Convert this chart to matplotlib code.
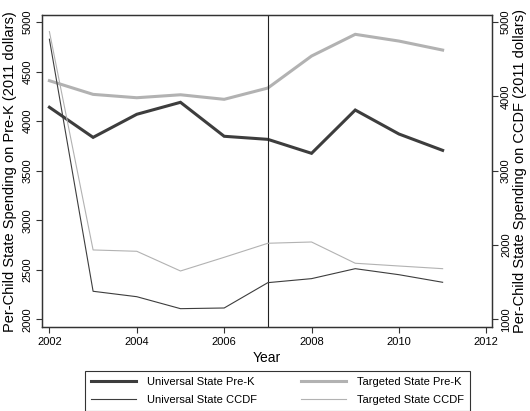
import matplotlib
matplotlib.use("Agg")
import matplotlib.pyplot as plt

plt.rcParams["font.family"] = ["Liberation Sans", "DejaVu Sans"]

years = [2002, 2003, 2004, 2005, 2006, 2007, 2008, 2009, 2010, 2011]

universal_prek = [4140, 3836, 4069, 4190, 3847, 3816, 3675, 4112, 3870, 3705]
targeted_prek = [4408, 4270, 4236, 4266, 4220, 4334, 4657, 4876, 4808, 4717]
universal_ccdf = [4768, 1377, 1304, 1143, 1152, 1493, 1547, 1681, 1600, 1498]
targeted_ccdf = [4871, 1933, 1915, 1650, 1834, 2023, 2040, 1754, 1717, 1681]

x_ticks = [2002, 2004, 2006, 2008, 2010, 2012]
prek_ticks = [2000, 2500, 3000, 3500, 4000, 4500, 5000]
ccdf_ticks = [1000, 2000, 3000, 4000, 5000]
policy_year = 2007

dark = "#3d3d3d"
light = "#b2b2b2"

fig = plt.figure(figsize=(5.30, 4.11), dpi=100)
ax = fig.add_axes([0.0792, 0.2036, 0.8491, 0.7599])
ax2 = ax.twinx()

l1, = ax.plot(years, universal_prek, color=dark, lw=2.2, solid_joinstyle="miter")
l2, = ax.plot(years, targeted_prek, color=light, lw=2.2, solid_joinstyle="miter")
l3, = ax2.plot(years, universal_ccdf, color=dark, lw=0.8)
l4, = ax2.plot(years, targeted_ccdf, color=light, lw=0.8)
ax.axvline(policy_year, color="#222222", lw=0.8)

ax.set_xlim(2001.83, 2012.13)
ax.set_ylim(1919, 5071)
ax2.set_ylim(892, 5094)

ax.set_xticks(x_ticks)
ax.set_yticks(prek_ticks)
ax2.set_yticks(ccdf_ticks)

for a in (ax, ax2):
    a.tick_params(axis="both", direction="out", length=4, width=0.8,
                  labelsize=8, pad=3, color="#333333")
    for s in a.spines.values():
        s.set_color("#333333")
        s.set_linewidth(0.9)
ax2.tick_params(axis="y", pad=2.5)
for lab in ax.get_yticklabels() + ax2.get_yticklabels():
    lab.set_rotation(90)
    lab.set_va("center")

ax.set_xlabel("Year", fontsize=10, labelpad=3)
ax.set_ylabel("Per-Child State Spending on Pre-K (2011 dollars)", fontsize=10.5,
              labelpad=4)
ax2.set_ylabel("Per-Child State Spending on CCDF (2011 dollars)", fontsize=10.5,
               labelpad=1.5)

leg = fig.legend([l1, l3, l2, l4],
                 ["Universal State Pre-K", "Universal State CCDF",
                  "Targeted State Pre-K", "Targeted State CCDF"],
                 ncol=2, loc="upper center", bbox_to_anchor=(0.524, 0.098),
                 fontsize=8, frameon=True, fancybox=False, edgecolor="black",
                 handlelength=4.0, handletextpad=1.0, columnspacing=4.0,
                 borderpad=0.55, labelspacing=0.75, borderaxespad=0)
leg.get_frame().set_linewidth(0.8)

fig.savefig("out.png", dpi=100)
